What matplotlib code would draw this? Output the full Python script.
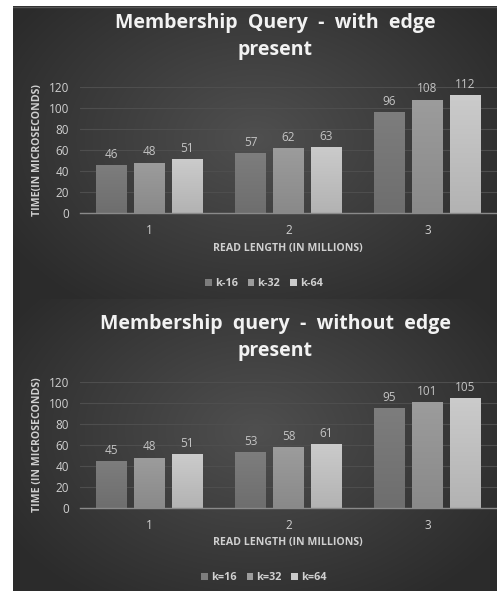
import numpy as np
import matplotlib
matplotlib.use("Agg")
import matplotlib.pyplot as plt

W, H = 497, 591

categories = ["1", "2", "3"]
series_names_top = ["k-16", "k-32", "k-64"]
top_k16 = [46, 57, 96]
top_k32 = [48, 62, 108]
top_k64 = [51, 63, 112]

series_names_bot = ["k=16", "k=32", "k=64"]
bot_k16 = [45, 53, 95]
bot_k32 = [48, 58, 101]
bot_k64 = [51, 61, 105]

yticks = [0, 20, 40, 60, 80, 100, 120]

title_top = "Membership  Query  -  with  edge\npresent"
title_bot = "Membership  query  -  without  edge\npresent"
ylabel_top = "TIME(IN MICROSECONDS)"
ylabel_bot = "TIME (IN MICROSECONDS)"
xlabel = "READ LENGTH (IN MILLIONS)"

bar_colors = ["#7d7d7d", "#9c9c9c", "#cbcbcb"]
text_col = "#d0d0d0"

fig = plt.figure(figsize=(W / 100, H / 100), dpi=100)
fig.patch.set_facecolor("white")


def fx(x):
    return x / W


def fy(y):
    return 1 - y / H


# background panels with radial gradient
bg = fig.add_axes([fx(13), 0, fx(W - 13), 1 - 6 / H])
bg.set_axis_off()
for (y0, y1) in [(6, 299), (299, H)]:
    ny, nx = 200, 300
    yy, xx = np.mgrid[0:ny, 0:nx]
    cx, cy = nx * 0.5, ny * 0.45
    r = np.sqrt(((xx - cx) / (nx * 0.6)) ** 2 + ((yy - cy) / (ny * 0.7)) ** 2)
    r = np.clip(r, 0, 1)
    v = 0.31 - 0.14 * r
    img = np.dstack([v, v, v])
    bg.imshow(img, extent=(13, W, y1, y0), aspect="auto", interpolation="bilinear", zorder=0)
bg.set_xlim(13, W)
bg.set_ylim(H, 6)
bg.add_line(plt.Line2D([13, W], [6.5, 6.5], color="#555555", lw=1))


def draw_chart(ax_rect, title_y, title, ylabel, names, s1, s2, s3, xl_y, lg_y):
    ax = fig.add_axes(ax_rect)
    ax.set_facecolor("none")
    x = np.arange(len(categories))
    w = 0.223
    step = 0.273
    for i, (vals, col, nm) in enumerate(zip([s1, s2, s3], bar_colors, names)):
        bars = ax.bar(x + (i - 1) * step, vals, width=w, color=col, label=nm, zorder=3)
        for b in bars:
            bx, by = b.get_x(), b.get_y()
            bw, bh = b.get_width(), b.get_height()
            grad = np.linspace(1.0, 0.88, 50).reshape(-1, 1)
            base = np.array(matplotlib.colors.to_rgb(col))
            img = np.clip(grad[:, :, None] * base[None, None, :] * np.ones((1, 2, 1)), 0, 1)
            im = ax.imshow(img, extent=(bx, bx + bw, by, by + bh), aspect="auto",
                           zorder=3.5, interpolation="bilinear")
            im.set_clip_path(b)
        for b, v in zip(bars, vals):
            ax.text(b.get_x() + b.get_width() / 2, v + 4, str(v), ha="center", va="bottom",
                    color="#c4c4c4", fontsize=8.5, family="Open Sans", zorder=5)
    ax.set_xlim(-0.5, 2.5)
    ax.set_ylim(0, 120)
    ax.set_yticks(yticks)
    ax.set_yticklabels([str(t) for t in yticks], fontsize=8.5, color=text_col, family="Open Sans")
    ax.set_xticks(x)
    ax.set_xticklabels(categories, fontsize=8.5, color=text_col, family="Open Sans")
    ax.tick_params(length=0, pad=8)
    ax.grid(axis="y", color="#4e4e4e", lw=0.8, zorder=0)
    ax.set_axisbelow(True)
    for s in ["top", "right", "left"]:
        ax.spines[s].set_visible(False)
    ax.spines["bottom"].set_color("#8a8a8a")
    ax.spines["bottom"].set_linewidth(1.0)
    ax.spines["bottom"].set_zorder(4)
    fig.text(fx(38), (ax_rect[1] + ax_rect[3] / 2), ylabel, rotation=90, ha="center", va="center",
             fontsize=7.6, color=text_col, fontweight="bold", family="Open Sans")
    fig.text(fx(288), fy(xl_y), xlabel, ha="center", va="center", fontsize=7.6,
             color=text_col, fontweight="bold", family="Open Sans")
    fig.text(fx(275), fy(title_y), title, ha="center", va="top", fontsize=14,
             color="#f2f2f2", fontweight="bold", family="Open Sans", linespacing=1.45)
    ax.legend(loc="center", bbox_to_anchor=(fx(264), fy(lg_y)), bbox_transform=fig.transFigure,
              ncol=3, frameon=False, handlelength=0.6, handleheight=0.6,
              handletextpad=0.3, columnspacing=0.9, labelcolor=text_col,
              prop={"family": "Open Sans", "weight": "bold", "size": 7.8})
    return ax


draw_chart([fx(80), fy(213), fx(417), 126 / H], 13, title_top, ylabel_top, series_names_top,
           top_k16, top_k32, top_k64, 248, 284)
draw_chart([fx(80), fy(508), fx(417), 126 / H], 314, title_bot, ylabel_bot, series_names_bot,
           bot_k16, bot_k32, bot_k64, 543, 578)

fig.savefig("out.png", dpi=100)
